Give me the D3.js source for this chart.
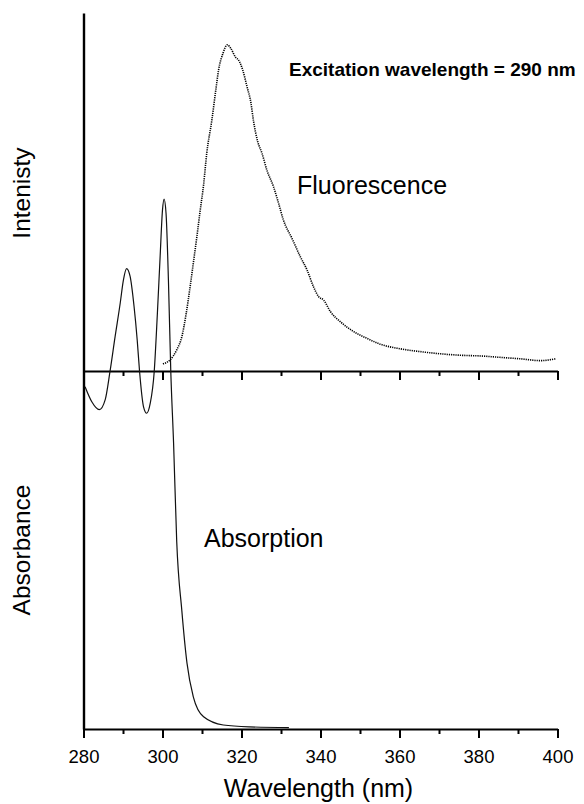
<!DOCTYPE html>
<html>
<head>
<meta charset="utf-8">
<script src="https://cdn.jsdelivr.net/npm/d3@7"></script>
<style>
  body { margin: 0; background: #fff; }
  text { font-family: "Liberation Sans", Arial, sans-serif; fill: #000; }
</style>
</head>
<body>
<div class="chart"></div>
<script>
// absorption spectrum (nm, absorbance, arbitrary units)
var absWl = [280.4, 282.1, 284.0, 285.5, 286.7, 288.0, 289.3, 290.1, 290.9, 291.8, 292.8, 293.6, 294.2, 295.2, 296.0, 296.9, 297.9, 298.7, 299.4, 300.0, 300.4, 300.9, 301.5, 302.1, 302.8, 303.6, 304.9, 306.2, 307.8, 310.4, 315.4, 322, 332];
var absVal = [0.478, 0.457, 0.446, 0.46, 0.499, 0.548, 0.595, 0.627, 0.643, 0.632, 0.59, 0.543, 0.499, 0.45, 0.441, 0.455, 0.499, 0.58, 0.66, 0.725, 0.74, 0.72, 0.627, 0.499, 0.40, 0.262, 0.165, 0.092, 0.045, 0.017, 0.0056, 0.003, 0.002];

// fluorescence spectrum (nm, intensity, arbitrary units)
var flWl = [300.1, 301.9, 303.6, 304.9, 306.0, 307.0, 307.8, 308.7, 309.5, 310.4, 311.2, 312.5, 313.6, 314.2, 315.3, 316.4, 317.3, 318.4, 319.5, 320.3, 321.4, 322.4, 323.0, 324.1, 325.2, 326.4, 328.1, 329.4, 330.6, 332.8, 334.9, 336.6, 338.2, 339.5, 340.8, 342.5, 345.0, 348.4, 351.8, 355.1, 360.2, 365.3, 370.4, 375.4, 380.5, 385.6, 390.6, 395.7, 399.5];
var flVal = [0.02, 0.031, 0.059, 0.096, 0.161, 0.236, 0.301, 0.375, 0.445, 0.52, 0.608, 0.701, 0.794, 0.841, 0.887, 0.911, 0.901, 0.878, 0.864, 0.841, 0.794, 0.748, 0.701, 0.641, 0.608, 0.562, 0.515, 0.468, 0.422, 0.37, 0.319, 0.282, 0.236, 0.208, 0.198, 0.166, 0.138, 0.11, 0.091, 0.075, 0.062, 0.054, 0.048, 0.044, 0.042, 0.038, 0.034, 0.029, 0.034];

var xTicks = [280, 300, 320, 340, 360, 380, 400];
var xMinorTicks = [290, 310, 330, 350, 370, 390];

var width = 584, height = 804;
// plot edges (note: "top" is reserved on window, so plotTop)
var plotLeft = 83.5, plotRight = 557.5, plotTop = 13, plotMid = 371, plotBottom = 729;

var svg = d3.select('.chart').append('svg')
  .attr('width', width)
  .attr('height', height);

var x = d3.scaleLinear().domain([280, 400]).range([plotLeft, plotRight]);
var yAbs = d3.scaleLinear().domain([0, 1]).range([plotBottom, plotTop]);
var yFl = d3.scaleLinear().domain([0, 1]).range([plotMid, plotTop]);

// axes: bottom one with labels, middle one without
function drawXAxis(yPos, labels) {
  var major = d3.axisBottom(x).tickValues(xTicks).tickSizeInner(9).tickSizeOuter(0)
    .tickFormat(labels ? d3.format('d') : '');
  var g = svg.append('g').attr('transform', 'translate(0,' + yPos + ')').call(major);
  g.select('.domain').attr('stroke-width', 2.2);
  g.selectAll('.tick line').attr('stroke-width', 2);
  g.selectAll('.tick text').attr('y', 21).attr('font-size', 18.5)
    .style('font-family', '"Liberation Sans", Arial, sans-serif');

  var minor = d3.axisBottom(x).tickValues(xMinorTicks).tickSizeInner(5).tickSizeOuter(0).tickFormat('');
  var gm = svg.append('g').attr('transform', 'translate(0,' + yPos + ')').call(minor);
  gm.select('.domain').remove();
  gm.selectAll('.tick line').attr('stroke-width', 2);
}
drawXAxis(plotMid, false);
drawXAxis(plotBottom, true);

var yAxis = d3.axisLeft(yAbs).tickValues([]).tickSizeOuter(0);
svg.append('g').attr('transform', 'translate(' + plotLeft + ',0)').call(yAxis)
  .select('.domain').attr('stroke-width', 2.4);

// curves
var absData = absWl.map(function(w, i) { return [w, absVal[i]]; });
var flData = flWl.map(function(w, i) { return [w, flVal[i]]; });

var absLine = d3.line()
  .x(function(d) { return x(d[0]); })
  .y(function(d) { return yAbs(d[1]); })
  .curve(d3.curveMonotoneX);

var flLine = d3.line()
  .x(function(d) { return x(d[0]); })
  .y(function(d) { return yFl(d[1]); })
  .curve(d3.curveMonotoneX);

svg.append('path').datum(absData)
  .attr('d', absLine)
  .attr('fill', 'none')
  .attr('stroke', '#111')
  .attr('stroke-width', 1.2);

svg.append('path').datum(flData)
  .attr('d', flLine)
  .attr('fill', 'none')
  .attr('stroke', '#000')
  .attr('stroke-width', 1.6)
  .attr('stroke-dasharray', '1.2,1');

// labels
svg.append('text').attr('x', 289).attr('y', 76)
  .attr('font-size', 19).attr('font-weight', 'bold')
  .text('Excitation wavelength = 290 nm');

svg.append('text').attr('x', 297).attr('y', 194)
  .attr('font-size', 25)
  .text('Fluorescence');

svg.append('text').attr('x', 204).attr('y', 547)
  .attr('font-size', 25)
  .text('Absorption');

svg.append('text')
  .attr('transform', 'translate(30,193) rotate(-90)')
  .attr('text-anchor', 'middle')
  .attr('font-size', 24.5)
  .text('Intenisty');

svg.append('text')
  .attr('transform', 'translate(30,550) rotate(-90)')
  .attr('text-anchor', 'middle')
  .attr('font-size', 24.5)
  .text('Absorbance');

svg.append('text').attr('x', 318.5).attr('y', 797)
  .attr('text-anchor', 'middle')
  .attr('font-size', 25)
  .text('Wavelength (nm)');
</script>
</body>
</html>
